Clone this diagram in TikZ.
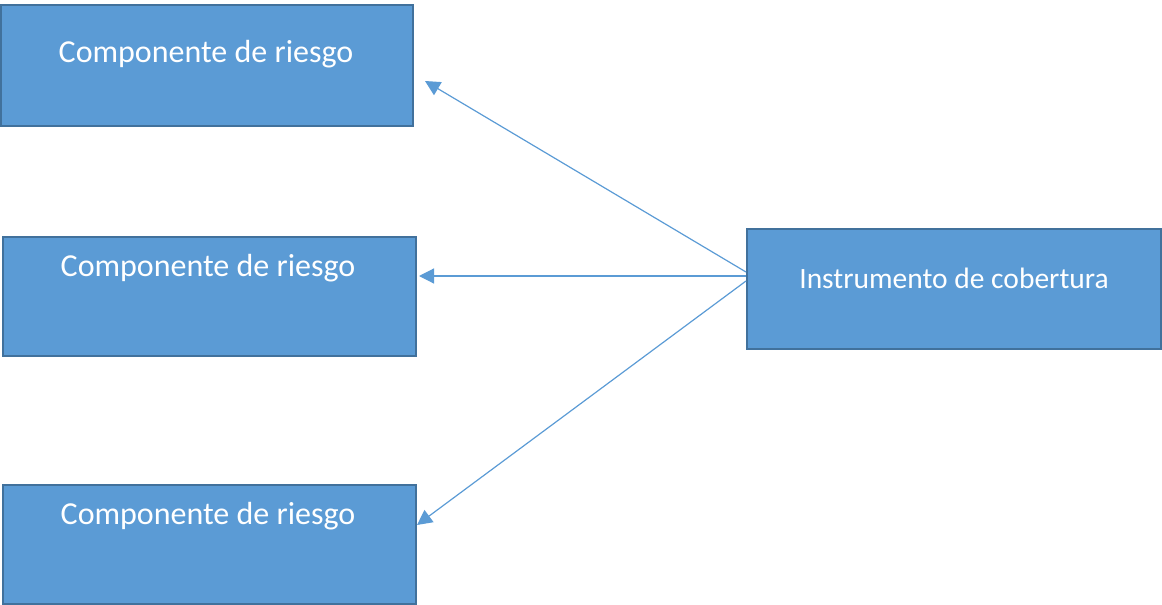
\documentclass[tikz,border=0pt]{standalone}
\usepackage{fontspec}
\setmainfont{Carlito}
\usetikzlibrary{arrows.meta}
\definecolor{boxfill}{HTML}{5B9BD5}
\definecolor{boxline}{HTML}{41719C}
\begin{document}
\begin{tikzpicture}[x=1pt,y=-1pt,
  box/.style={draw=boxline,fill=boxfill,line width=2.4pt},
  lbl/.style={text=white,font=\fontsize{32}{38}\selectfont,inner sep=0pt,anchor=center},
  lblr/.style={text=white,font=\fontsize{29.5}{35}\selectfont,inner sep=0pt,anchor=center},
  conn/.style={draw=boxfill,line width=1.2pt,-{Triangle[length=15pt,width=15pt]}}]
\useasboundingbox (0,0) rectangle (1162,605);
\draw[box] (1,5) rectangle (413,126);
\draw[box] (3,237) rectangle (416,356);
\draw[box] (3,485) rectangle (416,604);
\draw[box] (747,229) rectangle (1161,349);
\node[lbl] (t1) at (206,54) {Componente de riesgo};
\node[lbl] (t2) at (208,268) {Componente de riesgo};
\node[lbl] (t3) at (208,516) {Componente de riesgo};
\node[lblr] (t4) at (954,278) {Instrumento de cobertura};
\coordinate (s1) at (746,272);
\coordinate (s2) at (746,276);
\coordinate (s3) at (746,281);
\coordinate (e1) at (425,81);
\coordinate (e2) at (419,276);
\coordinate (e3) at (417,525);
\draw[conn] (s1) -- (e1);
\draw[conn] (s2) -- (e2);
\draw[conn] (s3) -- (e3);
\end{tikzpicture}
\end{document}
